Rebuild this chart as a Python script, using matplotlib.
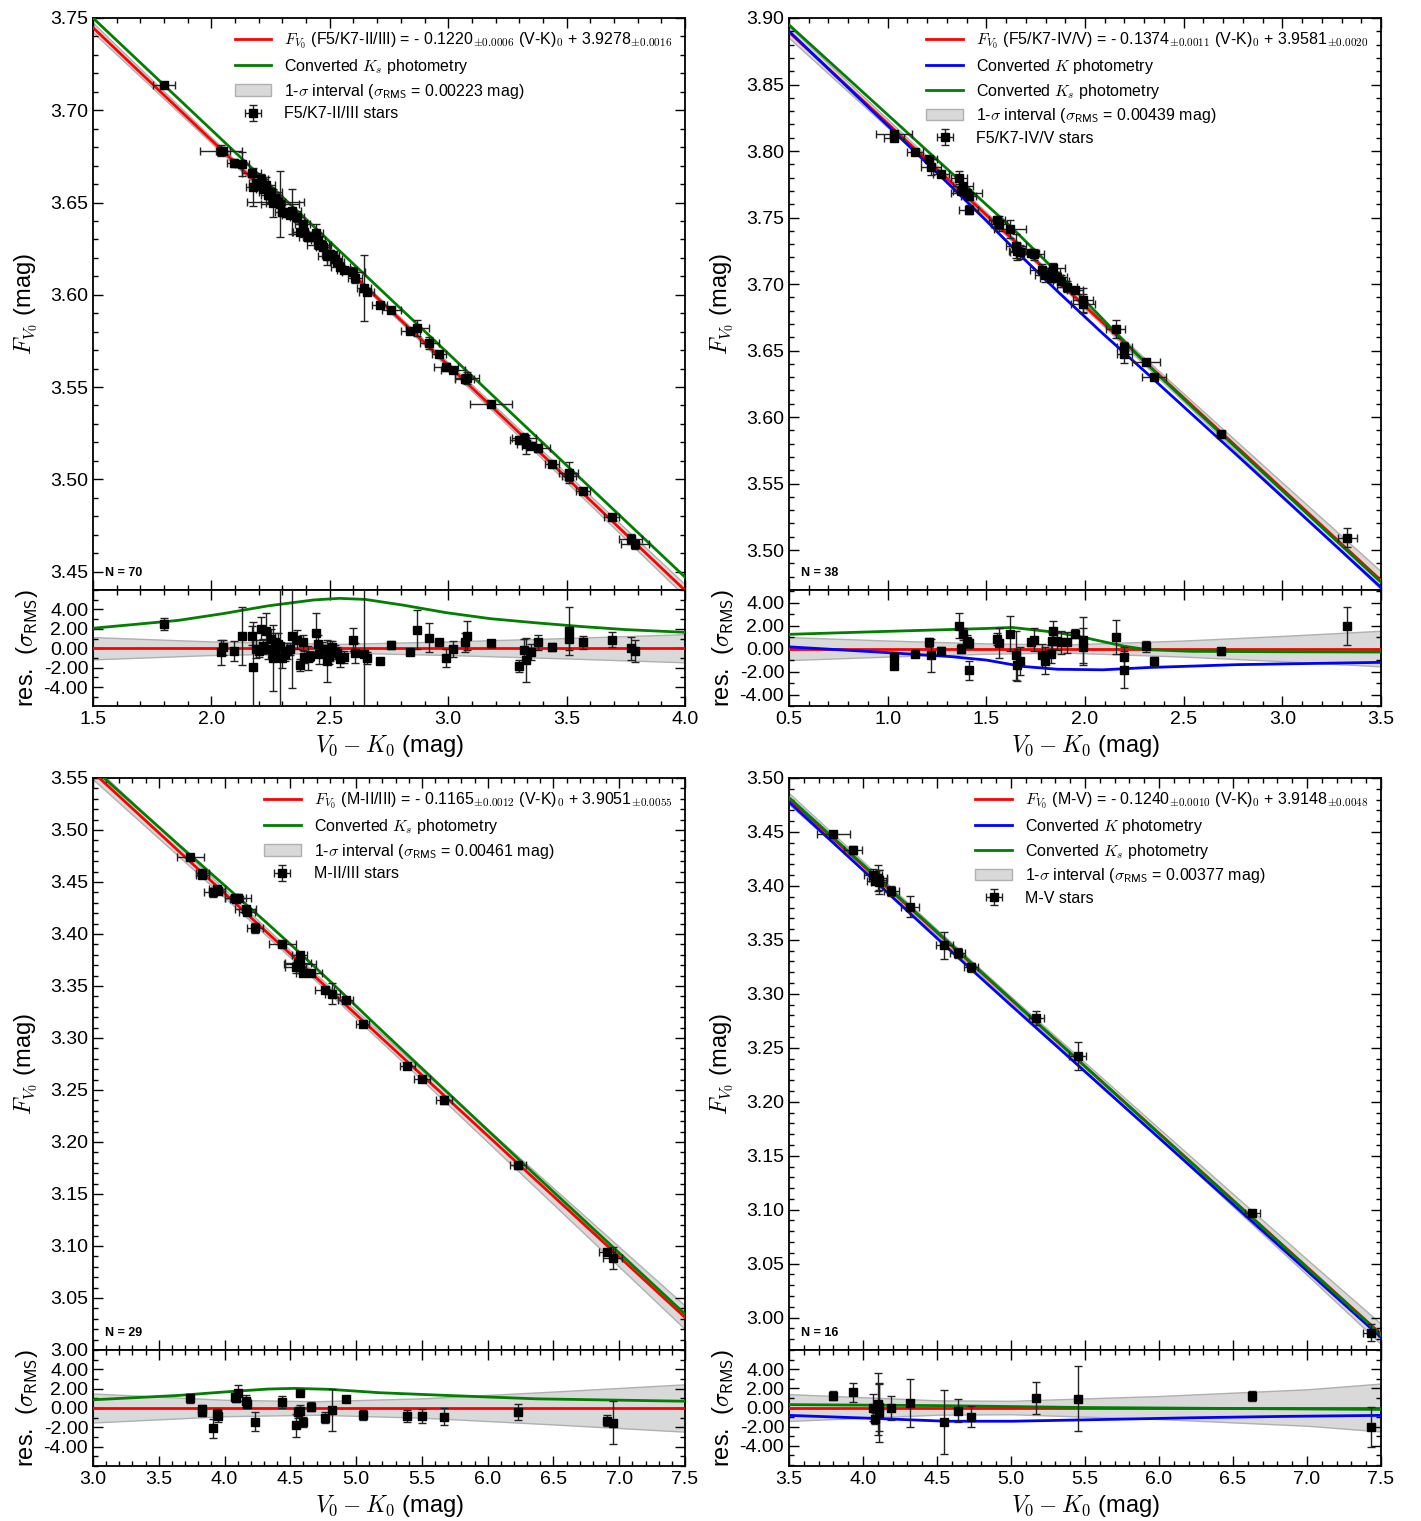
import numpy as np
import matplotlib.pyplot as plt
from matplotlib.ticker import MultipleLocator, FixedLocator, FormatStrFormatter

plt.rcParams["font.family"] = "Liberation Sans"
plt.rcParams["mathtext.fontset"] = "cm"
plt.rcParams["axes.unicode_minus"] = False

# ==== DANE: F5/K7-II/III ====
tl_fit = (-0.1220, 3.9278)
tl_sigma = 0.00223
tl_x = [1.80, 2.04, 2.05, 2.095, 2.13, 2.17, 2.175, 2.19, 2.21, 2.23, 2.24, 2.25, 2.26, 2.27,
        2.28, 2.29, 2.30, 2.32, 2.33, 2.34, 2.36, 2.375, 2.385, 2.41, 2.415, 2.44, 2.45, 2.455,
        2.465, 2.49, 2.495, 2.50, 2.51, 2.53, 2.545, 2.60, 2.605, 2.645, 2.655, 2.71, 2.76, 2.84,
        2.87, 2.92, 2.96, 2.99, 3.02, 3.07, 3.08, 3.18, 3.30, 3.32, 3.33, 3.35, 3.38, 3.44, 3.51,
        3.51, 3.57, 3.69, 3.77, 3.79, 2.20, 2.22, 2.31, 2.39, 2.47, 2.52, 2.27, 2.56]
tl_res = [2.5, -0.4, 0.1, -0.3, 1.3, 1.3, -1.9, -0.1, 2.0, 1.8, -0.1, 1.0, -1.0, 0.6,
          0.4, 0.25, -1.0, -0.3, -0.1, 1.3, 0.9, -1.7, 0.6, -1.0, -0.8, 1.6, 0.4, -0.6,
          -0.1, -1.3, -0.8, -0.3, 0.1, -0.5, -1.1, 0.9, -0.5, -0.6, -1.0, -1.3, 0.3, -0.4,
          1.9, 1.1, 0.6, -1.0, -0.1, 0.6, 1.3, 0.5, -1.8, -0.2, -1.2, -0.4, 0.6, 0.1, 1.8,
          1.0, 0.6, 0.9, 0.0, -0.3, -0.3, 0.2, -0.6, -0.9, -0.2, -0.4, -0.3, -0.9]
tl_rerr = [0.6, 1.3, 0.8, 1.0, 3.0, 1.0, 4.6, 0.9, 1.2, 1.8, 1.0, 1.0, 3.4, 1.0,
           1.2, 8.0, 1.0, 0.8, 0.6, 5.4, 1.0, 0.6, 0.8, 1.2, 0.5, 2.0, 1.0, 1.0,
           0.7, 2.2, 0.8, 1.0, 0.6, 0.6, 0.8, 1.2, 1.0, 8.0, 0.6, 0.3, 0.4, 0.3,
           2.0, 1.5, 0.4, 0.9, 0.8, 1.0, 1.5, 0.4, 0.6, 1.2, 2.3, 0.8, 0.8, 0.4, 2.5,
           1.2, 0.7, 0.8, 1.2, 1.1, 0.6, 0.8, 0.7, 0.6, 0.5, 0.7, 0.7, 0.6]
tl_xerr = [0.045, 0.09, 0.03, 0.03, 0.03, 0.04, 0.03, 0.03, 0.03, 0.04, 0.03, 0.05, 0.03, 0.03,
           0.03, 0.08, 0.03, 0.03, 0.03, 0.04, 0.03, 0.03, 0.03, 0.04, 0.03, 0.03, 0.03, 0.05,
           0.03, 0.04, 0.03, 0.03, 0.03, 0.03, 0.04, 0.05, 0.03, 0.03, 0.03, 0.03, 0.04, 0.04,
           0.05, 0.04, 0.03, 0.05, 0.05, 0.04, 0.05, 0.09, 0.04, 0.05, 0.04, 0.04, 0.05, 0.03, 0.04,
           0.03, 0.03, 0.03, 0.05, 0.06, 0.03, 0.03, 0.03, 0.05, 0.03, 0.03, 0.12, 0.03]
tl_band_x = [1.5, 2.0, 2.55, 3.0, 3.5, 4.0]
tl_band_w = [1.15, 0.7, 0.45, 0.7, 1.05, 1.45]
tl_ks_x = [1.5, 1.86, 2.05, 2.24, 2.43, 2.54, 2.65, 2.81, 2.99, 3.18, 3.37, 3.56, 3.75, 4.0]
tl_ks_res = [2.06, 2.87, 3.57, 4.37, 4.97, 5.14, 5.03, 4.44, 3.67, 3.04, 2.62, 2.24, 1.92, 1.64]
# zielona linia w panelu glownym (odczyt z wykresu, prosta)
tl_ks_main_x = [1.5, 4.0]
tl_ks_main_y = [3.7500, 3.4470]

# ==== DANE: F5/K7-IV/V ====
tr_fit = (-0.1374, 3.9581)
tr_sigma = 0.00439
tr_x = [1.033, 1.033, 1.14, 1.21, 1.22, 1.27, 1.36, 1.37, 1.38, 1.40, 1.41, 1.41, 1.555,
        1.565, 1.62, 1.65, 1.655, 1.67, 1.725, 1.74, 1.78, 1.795, 1.83, 1.835, 1.84, 1.86,
        1.88, 1.91, 1.95, 1.99, 1.99, 2.155, 2.20, 2.20, 2.31, 2.35, 2.69, 3.33]
tr_res = [-0.7, -1.5, -0.45, 0.55, -0.6, -0.2, 2.0, 0.0, 1.25, 0.65, 0.45, -1.9, 0.85,
          0.5, 1.3, -0.6, -1.4, -1.1, 0.55, 0.75, -0.6, -1.05, -0.45, 0.65, 1.5, 0.65,
          0.55, 0.55, 1.3, 0.75, 0.15, 1.0, -0.75, -1.85, 0.2, -1.1, -0.25, 2.0]
tr_rerr = [0.4, 0.3, 0.3, 0.4, 1.4, 0.3, 1.1, 0.4, 0.5, 0.5, 0.4, 0.8, 0.5,
           1.3, 1.5, 2.1, 1.4, 1.2, 0.3, 1.0, 1.0, 1.2, 0.8, 0.7, 0.9, 0.8,
           1.0, 0.9, 0.4, 2.0, 1.6, 1.5, 0.9, 1.6, 0.5, 0.4, 0.3, 1.65]
tr_xerr = [0.09, 0.05, 0.04, 0.04, 0.05, 0.04, 0.04, 0.04, 0.05, 0.08, 0.04, 0.05, 0.04,
           0.04, 0.08, 0.05, 0.04, 0.05, 0.04, 0.05, 0.06, 0.05, 0.06, 0.04, 0.06, 0.05,
           0.04, 0.05, 0.04, 0.05, 0.06, 0.05, 0.04, 0.04, 0.07, 0.06, 0.02, 0.05]
tr_band_x = [0.5, 1.0, 1.5, 1.9, 2.5, 3.0, 3.5]
tr_band_w = [1.0, 0.7, 0.45, 0.35, 0.7, 1.1, 1.55]
tr_ks_x = [0.5, 1.0, 1.5, 1.63, 1.86, 2.0, 2.2, 2.32, 2.54, 3.0, 3.5]
tr_ks_res = [1.24, 1.5, 1.75, 1.84, 1.4, 0.95, 0.2, -0.1, -0.24, -0.28, -0.3]
tr_k_x = [0.5, 0.95, 1.32, 1.5, 1.68, 1.86, 2.09, 2.32, 2.77, 3.5]
tr_k_res = [0.15, -0.3, -0.7, -1.0, -1.55, -1.8, -1.85, -1.65, -1.4, -1.2]

# ==== DANE: M-II/III ====
bl_fit = (-0.1165, 3.9051)
bl_sigma = 0.00461
bl_x = [3.74, 3.83, 3.83, 3.91, 3.94, 3.95, 4.08, 4.09, 4.10, 4.16, 4.17, 4.23, 4.44, 4.54,
        4.56, 4.57, 4.575, 4.60, 4.66, 4.76, 4.82, 4.92, 5.05, 5.39, 5.50, 5.67, 6.23, 6.91, 6.95]
bl_res = [1.0, -0.1, -0.45, -2.1, -0.6, -0.8, 1.1, 1.0, 1.55, 0.7, 0.45, -1.4, 0.6, -1.8,
          -0.45, 1.55, -0.3, -1.45, 0.15, -1.0, -0.2, 0.95, -0.7, -0.8, -0.8, -0.9, -0.4, -1.3, -1.5]
bl_rerr = [0.5, 0.4, 0.4, 1.0, 0.5, 0.6, 0.4, 0.4, 0.8, 0.6, 0.5, 1.0, 0.6, 1.2,
           0.6, 0.3, 0.6, 0.5, 0.5, 0.6, 2.2, 0.3, 0.5, 0.6, 0.7, 0.9, 0.8, 0.6, 2.25]
bl_xerr = [0.10, 0.05, 0.05, 0.07, 0.06, 0.05, 0.08, 0.05, 0.10, 0.08, 0.06, 0.06, 0.10, 0.08,
           0.10, 0.06, 0.12, 0.06, 0.08, 0.07, 0.06, 0.06, 0.05, 0.06, 0.06, 0.06, 0.06, 0.06, 0.07]
bl_band_x = [3.0, 4.0, 4.7, 5.5, 6.5, 7.5]
bl_band_w = [1.5, 0.85, 0.7, 1.0, 1.7, 2.45]
bl_ks_x = [3.0, 3.65, 3.99, 4.33, 4.53, 4.80, 5.18, 5.69, 6.37, 7.5]
bl_ks_res = [0.85, 1.3, 1.65, 1.96, 2.03, 1.93, 1.58, 1.3, 0.95, 0.7]

# ==== DANE: M-V ====
br_fit = (-0.1240, 3.9148)
br_sigma = 0.00377
br_x = [3.80, 3.93, 4.07, 4.08, 4.10, 4.105, 4.11, 4.19, 4.32, 4.55, 4.64, 4.73, 5.17, 5.45, 6.63, 7.43]
br_res = [1.25, 1.57, 0.0, -1.15, 0.35, -0.55, 0.1, -0.05, 0.45, -1.5, -0.35, -0.95, 1.0, 0.9, 1.2, -2.0]
br_rerr = [0.5, 1.0, 1.4, 0.6, 3.2, 3.0, 2.5, 1.2, 2.5, 3.3, 1.2, 1.1, 1.7, 3.4, 0.55, 2.1]
br_xerr = [0.11, 0.06, 0.06, 0.05, 0.06, 0.05, 0.05, 0.05, 0.06, 0.06, 0.05, 0.05, 0.05, 0.06, 0.05, 0.05]
br_band_x = [3.5, 4.5, 5.0, 6.0, 7.0, 7.5]
br_band_w = [1.4, 0.75, 0.7, 1.2, 1.9, 2.5]
br_ks_x = [3.5, 4.5, 5.5, 6.5, 7.5]
br_ks_res = [0.3, 0.2, 0.0, -0.1, -0.2]
br_k_x = [3.5, 4.1, 4.56, 5.01, 5.62, 6.22, 6.83, 7.5]
br_k_res = [-0.82, -1.15, -1.43, -1.43, -1.25, -1.07, -0.93, -0.82]

RES_TICKS = [-4, -2, 0, 2, 4]


def pm(v):
    return r"$_{\pm\mathsf{" + v + "}}$"


def rysuj(col, row, fit, sigma, x, res, rerr, xerr, band_x, band_w, ks_x, ks_res,
          k_x, k_res, xlim, ylim, rlim, grupa, n, sig_txt, a_txt, b_txt, ks_main=None):
    W = 592 / 1421
    left = [93 / 1421, 789 / 1421][col]
    top_px = [18, 778][row]
    ax = fig.add_axes([left, 1 - (top_px + 572) / 1521, W, 572 / 1521])
    axr = fig.add_axes([left, 1 - (top_px + 688) / 1521, W, 116 / 1521])
    a, b = fit
    x = np.array(x)
    res = np.array(res)
    fx = np.array(xlim)
    bx = np.array(band_x)
    bw = np.array(band_w)

    # --- panel glowny ---
    h_fit, = ax.plot(fx, a * fx + b, color="#ff0000", lw=2, zorder=3,
                     label=r"$F_{V_0}$ (" + grupa + ") = - " + a_txt[0] + pm(a_txt[1])
                     + r" (V-K)$_0$ + " + b_txt[0] + pm(b_txt[1]))
    handles = [h_fit]
    if k_x is not None:
        kx = np.array(k_x)
        h_k, = ax.plot(kx, a * kx + b + np.array(k_res) * sigma, color="#0000ff", lw=2, zorder=3,
                       label=r"Converted $K$ photometry")
        handles.append(h_k)
    if ks_main is not None:
        gx, gy = ks_main
    else:
        gx = np.array(ks_x)
        gy = a * gx + b + np.array(ks_res) * sigma
    h_ks, = ax.plot(gx, gy, color="#007f00", lw=2, zorder=3,
                    label=r"Converted $K_s$ photometry")
    handles.append(h_ks)
    h_band = ax.fill_between(bx, a * bx + b - bw * sigma, a * bx + b + bw * sigma,
                             facecolor="#d9d9d9", edgecolor="#b0b0b0", lw=1, zorder=1,
                             label=r"1-$\sigma$ interval ($\sigma_{\mathsf{RMS}}$ = " + sig_txt + " mag)")
    handles.append(h_band)
    y = a * x + b + res * sigma
    h_pts = ax.errorbar(x, y, xerr=xerr, yerr=np.array(rerr) * sigma, fmt="s", color="black",
                        ms=6, ecolor="#222222", elinewidth=1, capsize=3, zorder=4,
                        label=grupa + " stars")
    handles.append(h_pts)

    ax.legend(handles=handles, loc="upper right", frameon=False, fontsize=11.5,
              handlelength=2.3, handletextpad=0.8, labelspacing=0.35, borderaxespad=0.4)
    ax.text(0.02, 0.025, "N = %d" % n, transform=ax.transAxes, fontsize=9, fontweight="bold")
    ax.set_xlim(xlim)
    ax.set_ylim(ylim)
    ax.set_ylabel(r"$F_{V_0}$ (mag)", fontsize=17)
    ax.yaxis.set_major_locator(MultipleLocator(0.05))
    ax.yaxis.set_minor_locator(MultipleLocator(0.01))
    ax.yaxis.set_major_formatter(FormatStrFormatter("%.2f"))
    ax.tick_params(labelbottom=False)

    # --- panel reszt ---
    axr.fill_between(bx, -bw, bw, facecolor="#d9d9d9", edgecolor="#b0b0b0", lw=1, zorder=1)
    axr.plot(fx, [0, 0], color="#ff0000", lw=2, zorder=3)
    if k_x is not None:
        axr.plot(k_x, k_res, color="#0000ff", lw=2, zorder=3)
    axr.plot(ks_x, ks_res, color="#007f00", lw=2, zorder=3)
    axr.errorbar(x, res, yerr=rerr, fmt="s", color="black", ms=6, ecolor="#222222",
                 elinewidth=1, capsize=3, zorder=4)
    axr.set_xlim(xlim)
    axr.set_ylim(rlim)
    axr.set_xlabel(r"$V_0 - K_0$ (mag)", fontsize=17)
    axr.set_ylabel(r"res.  ($\sigma_{\mathsf{RMS}}$)", fontsize=17)
    axr.yaxis.set_major_locator(FixedLocator(RES_TICKS))
    axr.yaxis.set_minor_locator(MultipleLocator(1))
    axr.yaxis.set_major_formatter(FormatStrFormatter("%.2f"))

    for a_ in (ax, axr):
        a_.xaxis.set_major_locator(MultipleLocator(0.5))
        a_.xaxis.set_minor_locator(MultipleLocator(0.1))
        a_.tick_params(which="both", direction="in", top=True, right=True, labelsize=14, width=1)
        a_.tick_params(which="major", length=7)
        a_.tick_params(which="minor", length=3.5)
        for s in a_.spines.values():
            s.set_linewidth(1.3)
    ax.yaxis.set_label_coords(-0.09, 0.5)
    axr.yaxis.set_label_coords(-0.09, 0.5)


fig = plt.figure(figsize=(14.21, 15.21), dpi=100)

rysuj(0, 0, tl_fit, tl_sigma, tl_x, tl_res, tl_rerr, tl_xerr, tl_band_x, tl_band_w,
      tl_ks_x, tl_ks_res, None, None, (1.5, 4.0), (3.44, 3.75), (-5.95, 6.0),
      "F5/K7-II/III", 70, "0.00223", ("0.1220", "0.0006"), ("3.9278", "0.0016"),
      ks_main=(tl_ks_main_x, tl_ks_main_y))
rysuj(1, 0, tr_fit, tr_sigma, tr_x, tr_res, tr_rerr, tr_xerr, tr_band_x, tr_band_w,
      tr_ks_x, tr_ks_res, tr_k_x, tr_k_res, (0.5, 3.5), (3.47, 3.90), (-5.0, 5.1),
      "F5/K7-IV/V", 38, "0.00439", ("0.1374", "0.0011"), ("3.9581", "0.0020"))
rysuj(0, 1, bl_fit, bl_sigma, bl_x, bl_res, bl_rerr, bl_xerr, bl_band_x, bl_band_w,
      bl_ks_x, bl_ks_res, None, None, (3.0, 7.5), (3.00, 3.55), (-6.0, 6.0),
      "M-II/III", 29, "0.00461", ("0.1165", "0.0012"), ("3.9051", "0.0055"))
rysuj(1, 1, br_fit, br_sigma, br_x, br_res, br_rerr, br_xerr, br_band_x, br_band_w,
      br_ks_x, br_ks_res, br_k_x, br_k_res, (3.5, 7.5), (2.97, 3.50), (-6.1, 6.0),
      "M-V", 16, "0.00377", ("0.1240", "0.0010"), ("3.9148", "0.0048"))

fig.savefig("out.png", dpi=100)
